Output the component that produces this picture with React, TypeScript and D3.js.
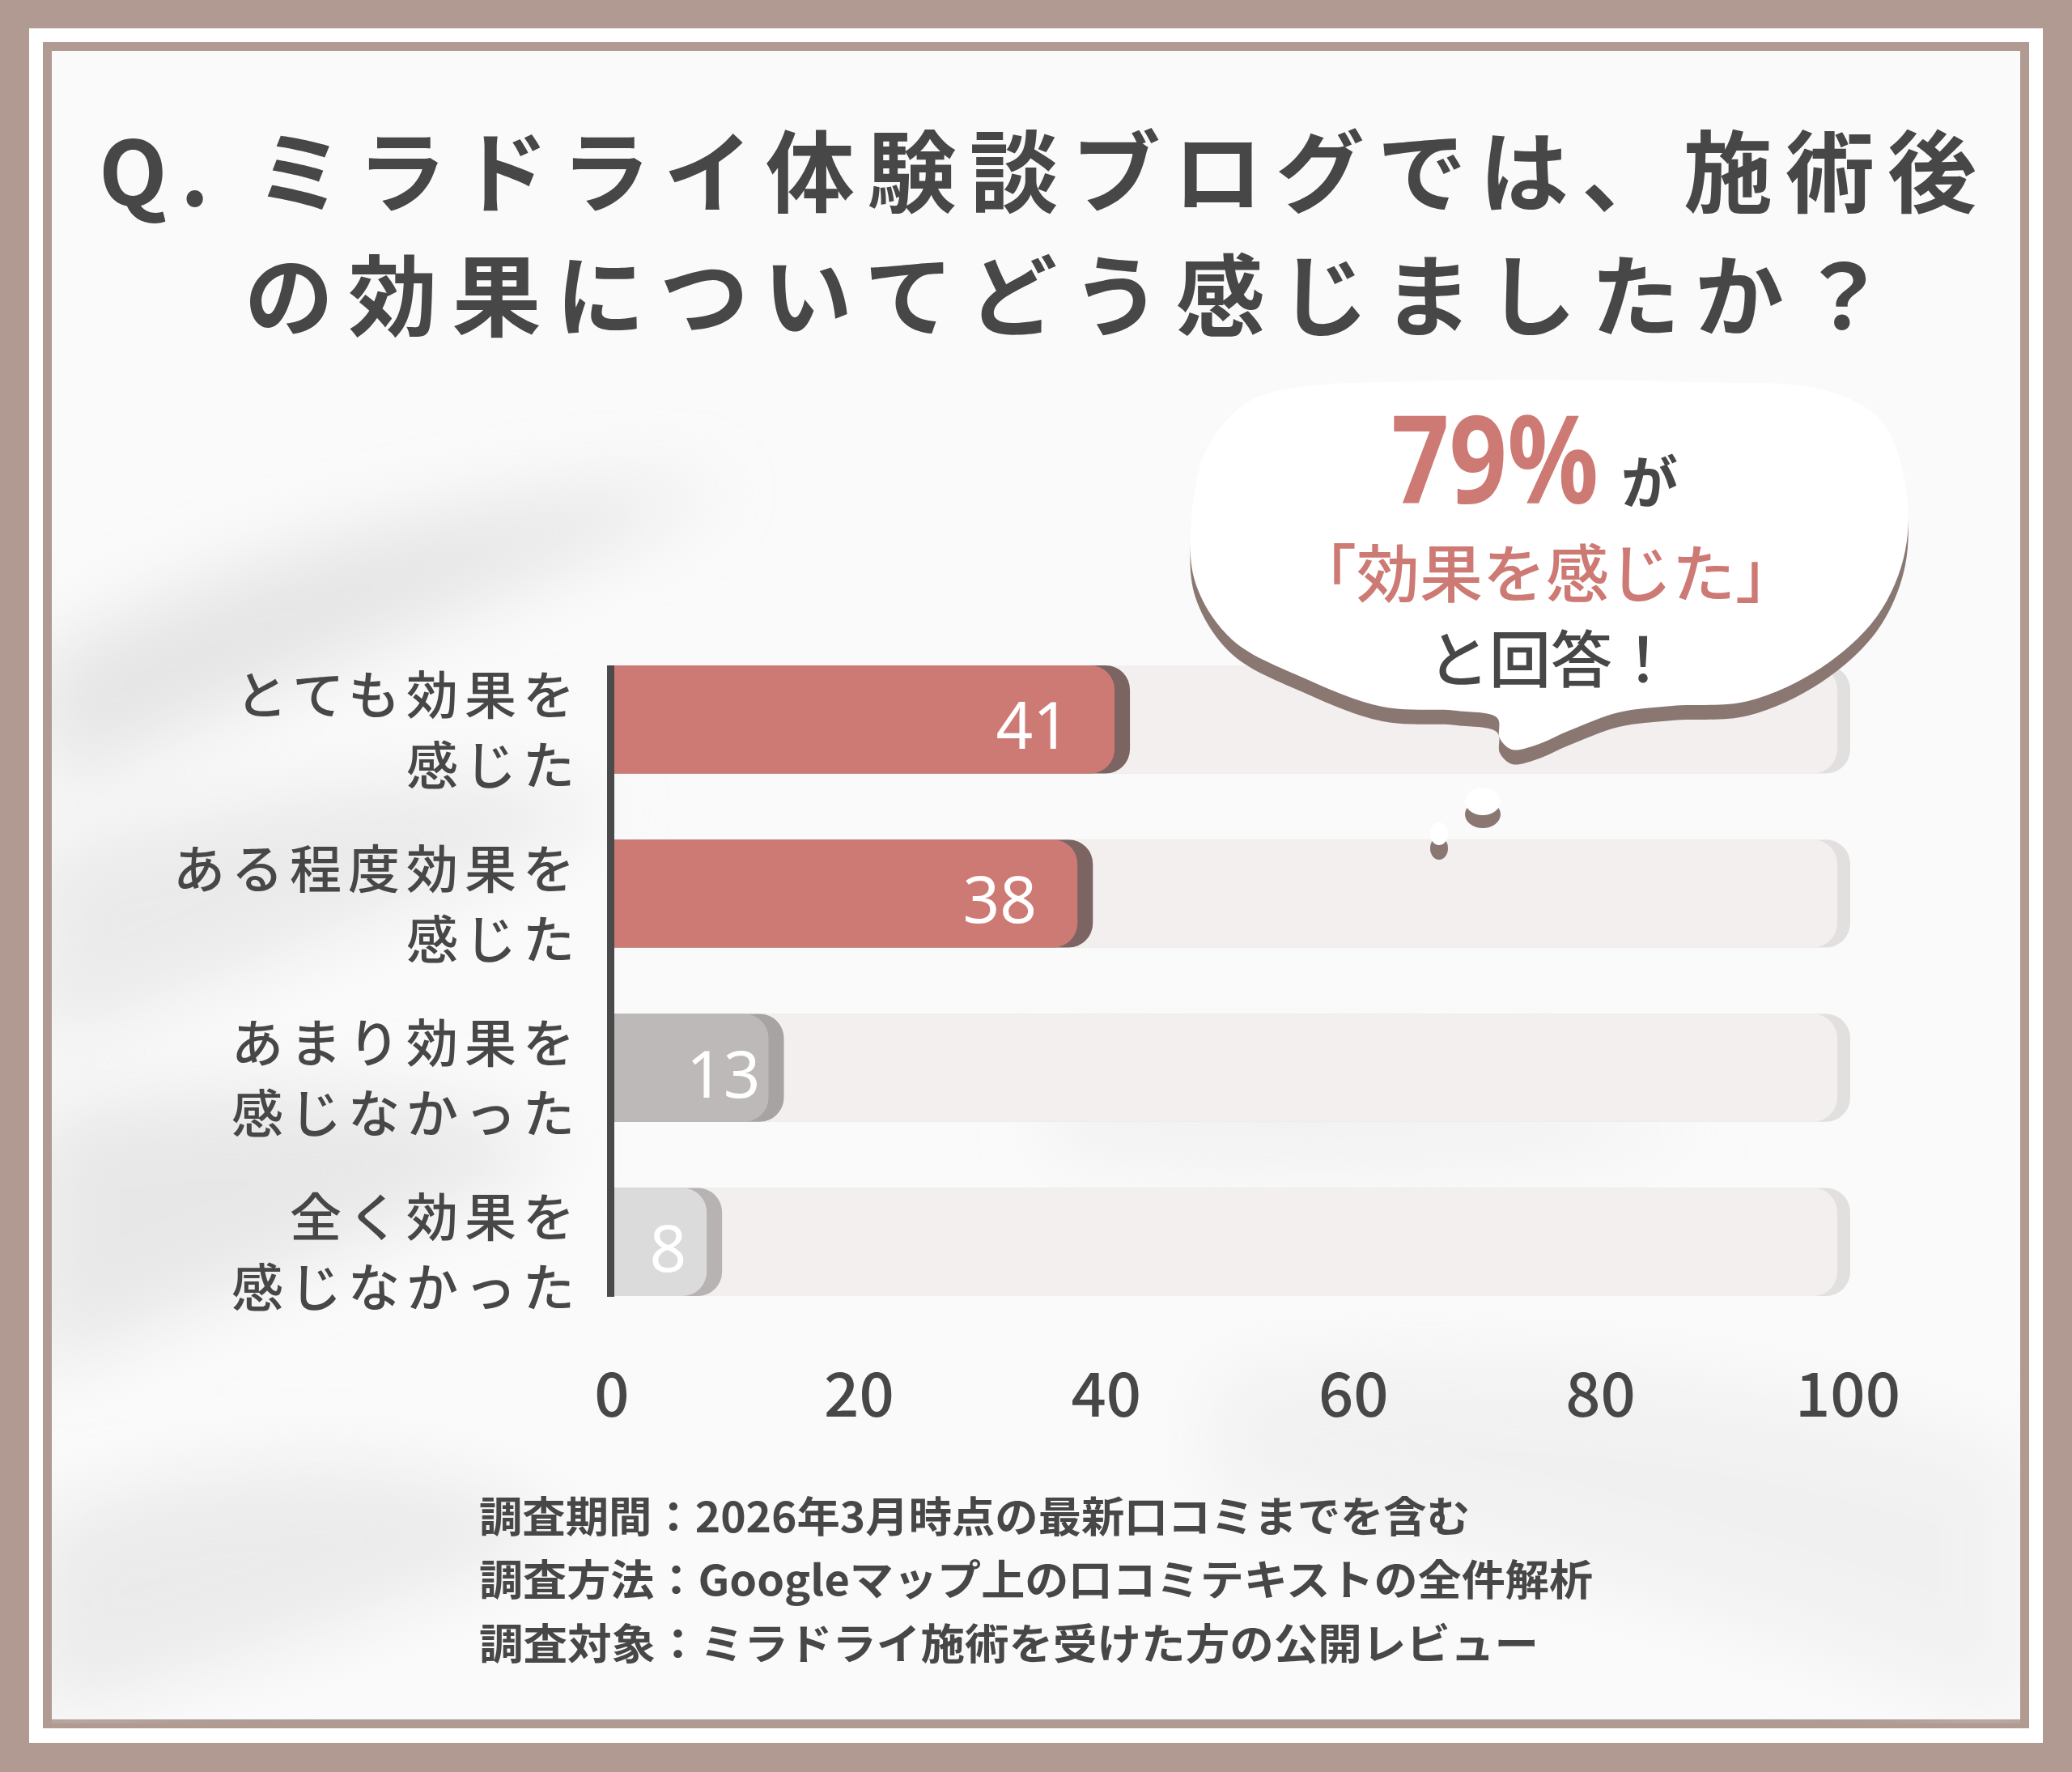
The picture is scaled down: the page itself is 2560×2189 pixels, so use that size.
import React from "react";
import * as d3 from "d3";

const W = 2560;
const H = 2189;

const titleLines = ["Q. ミラドライ体験談ブログでは、施術後", "の効果についてどう感じましたか？"];
const categories = ["とても効果を感じた", "ある程度効果を感じた", "あまり効果を感じなかった", "全く効果を感じなかった"];
const categoryLines = [
  ["とても効果を", "感じた"],
  ["ある程度効果を", "感じた"],
  ["あまり効果を", "感じなかった"],
  ["全く効果を", "感じなかった"],
];
const values = [41, 38, 13, 8];
const ticks = [0, 20, 40, 60, 80, 100];
const bubbleBig = "79%";
const bubbleSmall = "が";
const bubbleLine2 = "「効果を感じた」";
const bubbleLine3 = "と回答！";
const footnotes = [
  "調査期間：2026年3月時点の最新口コミまでを含む",
  "調査方法：Googleマップ上の口コミテキストの全件解析",
  "調査対象：ミラドライ施術を受けた方の公開レビュー",
];

const FONT = "'Noto Sans CJK JP', 'Noto Sans', sans-serif";
const DARK = "#474747";
const CORAL = "#cd7a74";
const BROWN = "#b09a91";
const barFill = ["#cd7a74", "#cd7a74", "#bdb9b8", "#dcdbdb"];
const barShadow = ["#7b6462", "#7b6462", "#a7a3a2", "#b6b3b2"];

function rightRounded(x0: number, y0: number, x1: number, y1: number, r: number) {
  const rr = Math.max(0, Math.min(r, x1 - x0, (y1 - y0) / 2));
  return `M${x0},${y0}H${x1 - rr}A${rr},${rr} 0 0 1 ${x1},${y0 + rr}V${y1 - rr}A${rr},${rr} 0 0 1 ${x1 - rr},${y1}H${x0}Z`;
}

const bubblePts: [number, number][] = [
  [1600, 479], [1760, 471], [1910, 469], [2080, 472], [2250, 481], [2322, 517],
  [2353, 592], [2354, 680], [2320, 760], [2250, 825], [2160, 866], [2066, 872],
  [2000, 880], [1940, 902], [1896, 921], [1868, 926], [1853, 912], [1850, 887],
  [1800, 878], [1708, 873], [1612, 838], [1522, 790], [1477, 720], [1472, 640],
  [1492, 552], [1540, 498],
];

export default function App() {
  const x = d3.scaleLinear().domain([0, 100]).range([756, 2283]);
  const y = d3.scaleBand<string>().domain(categories).range([822, 1601]).paddingInner(0.38).paddingOuter(0);
  const bw = y.bandwidth();
  const axisX = 754.5;
  const barX0 = 759;
  const bubblePath = d3.line().curve(d3.curveCatmullRomClosed.alpha(0.5))(bubblePts) || "";
  const labelX = (v: number) => x(v) - 40 - (x(v) - x(0)) * 0.105;

  return (
    <svg
      width={W}
      height={H}
      viewBox={`0 0 ${W} ${H}`}
      style={{ position: "absolute", left: 0, top: 0, display: "block" }}
      fontFamily={FONT}
    >
      <defs>
        <filter id="blurBg" x="-20%" y="-20%" width="140%" height="140%">
          <feGaussianBlur stdDeviation="45" />
        </filter>
        <clipPath id="inner">
          <rect x={64} y={63} width={2432} height={2066} />
        </clipPath>
      </defs>

      {/* frame */}
      <rect x={0} y={0} width={W} height={H} fill={BROWN} />
      <rect x={36} y={35} width={2488} height={2118} fill="#ffffff" />
      <rect x={58.5} y={57.5} width={2443} height={2072} fill="#fafafa" stroke={BROWN} strokeWidth={11} />

      {/* soft background texture */}
      <g clipPath="url(#inner)" filter="url(#blurBg)" opacity={0.6}>
        <path d="M40,820 C250,700 550,600 900,600 C700,700 400,820 60,980 Z" fill="#d8d8d8" />
        <path d="M40,1050 C300,980 600,930 760,1000 C560,1100 300,1200 40,1300 Z" fill="#e0e0e0" />
        <path d="M40,1380 C250,1330 500,1330 700,1420 C500,1520 250,1600 40,1700 Z" fill="#dcdcdc" />
        <path d="M40,1880 C300,1780 600,1800 700,1900 C450,2000 200,2080 40,2120 Z" fill="#e1e1e1" />
        <path d="M1500,1700 C1800,1650 2200,1700 2500,1800 L2500,2130 C2200,2000 1800,1900 1500,1850 Z" fill="#ebebeb" />
        <path d="M1300,1330 C1600,1300 1900,1330 2100,1400 C1800,1450 1500,1440 1300,1420 Z" fill="#eaeaea" />
      </g>

      {/* title */}
      <text x={122} y={206} dominantBaseline="central" fontSize={110} fontWeight={700} fill={DARK}
        textLength={2320} lengthAdjust="spacing">{titleLines[0]}</text>
      <text x={302} y={359} dominantBaseline="central" fontSize={110} fontWeight={700} fill={DARK}
        textLength={2030} lengthAdjust="spacing">{titleLines[1]}</text>

      {/* tracks */}
      {categories.map((c) => (
        <g key={"t" + c}>
          <path d={rightRounded(barX0, y(c)!, x(100) + 3, y(c)! + bw, 30)} fill="#e2e0df" />
          <path d={rightRounded(barX0, y(c)!, x(100) - 13, y(c)! + bw, 30)} fill="#f2efee" />
        </g>
      ))}

      {/* bars */}
      {categories.map((c, i) => (
        <g key={"b" + c}>
          <path d={rightRounded(barX0, y(c)!, x(values[i]) + 14, y(c)! + bw, 30)} fill={barShadow[i]} />
          <path d={rightRounded(barX0, y(c)!, x(values[i]) - 5, y(c)! + bw, 30)} fill={barFill[i]} />
          <text x={labelX(values[i])} y={y(c)! + bw / 2 + 5} textAnchor="middle" dominantBaseline="central"
            fontFamily="'Noto Sans', sans-serif" fontSize={80} fontWeight={400} fill="#ffffff">{values[i]}</text>
        </g>
      ))}

      {/* axis line */}
      <line x1={axisX} x2={axisX} y1={822} y2={1602} stroke="#4a4a4a" strokeWidth={9} />

      {/* category labels */}
      {categories.map((c, i) => (
        <g key={"l" + c}>
          {categoryLines[i].map((ln, j) => (
            <text key={j} x={718} y={y(c)! + bw / 2 + (j === 0 ? -35 : 52)} textAnchor="end"
              dominantBaseline="central" fontSize={64} fontWeight={500} fill={DARK} letterSpacing={8}>
              {ln}
            </text>
          ))}
        </g>
      ))}

      {/* tick labels */}
      {ticks.map((t) => (
        <text key={"k" + t} x={x(t)} y={1717} textAnchor="middle" dominantBaseline="central"
          fontSize={76} fontWeight={500} fill={DARK}>{t}</text>
      ))}

      {/* speech bubble */}
      <g>
        <path d={bubblePath} transform="translate(0,18)" fill="#8a7771" />
        <path d={bubblePath} fill="#ffffff" />
        <ellipse cx={1832} cy={1006} rx={22} ry={17} fill="#8a7771" />
        <ellipse cx={1832} cy={990} rx={22} ry={17} fill="#ffffff" />
        <ellipse cx={1778} cy={1048} rx={11} ry={14} fill="#8a7771" />
        <ellipse cx={1778} cy={1030} rx={11} ry={14} fill="#ffffff" />
        <text x={1719} y={622}>
          <tspan fontSize={150} fontWeight={700} fill={CORAL} fontFamily="'Noto Sans', sans-serif"
            textLength={256} lengthAdjust="spacingAndGlyphs">{bubbleBig}</tspan>
          <tspan dx={28} fontSize={70} fontWeight={700} fill={DARK}>{bubbleSmall}</tspan>
        </text>
        <text x={1910} y={704} textAnchor="middle" dominantBaseline="central" fontSize={78}
          fontWeight={500} fill={CORAL}>{bubbleLine2}</text>
        <text x={1916} y={810} textAnchor="middle" dominantBaseline="central" fontSize={76}
          fontWeight={500} fill={DARK}>{bubbleLine3}</text>
      </g>

      {/* footnotes */}
      {footnotes.map((f, i) => (
        <text key={"f" + i} x={592} y={1870 + i * 78.5} dominantBaseline="central" fontSize={52}
          fontWeight={700} fill={DARK} textLength={[1224, 1376, 1309][i]} lengthAdjust="spacingAndGlyphs">
          {f}
        </text>
      ))}
    </svg>
  );
}
